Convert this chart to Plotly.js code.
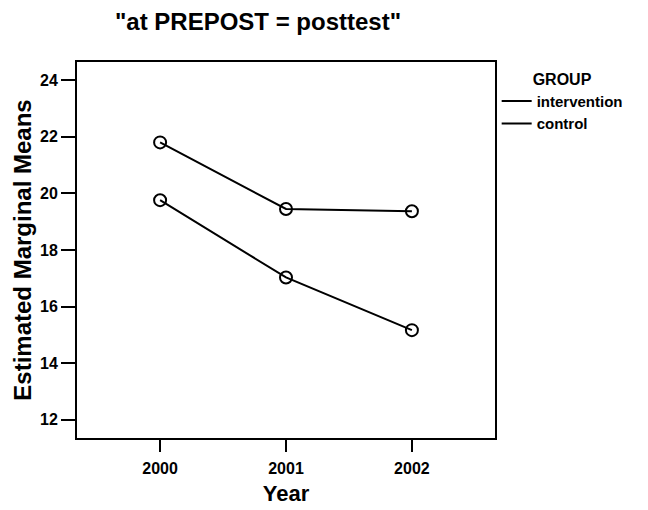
<!DOCTYPE html>
<html>
<head>
<meta charset="utf-8">
<script src="https://cdn.plot.ly/plotly-3.0.1.min.js"></script>
<style>html,body{margin:0;padding:0;background:#fff;}#chart{width:648px;height:510px;}</style>
</head>
<body>
<div id="chart"></div>
<script>
const years = [2000, 2001, 2002];
const intervention = [21.8, 19.45, 19.37];
const control = [19.76, 17.03, 15.17];
const yTicks = [12, 14, 16, 18, 20, 22, 24];
const seriesNames = ['intervention', 'control'];

const font = 'Liberation Sans, Arial, sans-serif';
const lineTrace = (y, name) => ({
  x: years, y: y, name: name, type: 'scatter', mode: 'lines',
  line: {color: '#000', width: 2}, showlegend: true
});
const markerTrace = (y, name) => ({
  x: years, y: y, name: name, type: 'scatter', mode: 'markers', showlegend: false,
  marker: {symbol: 'circle-open', size: 12, color: '#000', line: {color: '#000', width: 2}}
});

const data = [
  lineTrace(intervention, seriesNames[0]), lineTrace(control, seriesNames[1]),
  markerTrace(intervention, seriesNames[0]), markerTrace(control, seriesNames[1])
];

const layout = {
  width: 648, height: 510,
  margin: {l: 77, r: 153, t: 62, b: 72},
  paper_bgcolor: '#fff', plot_bgcolor: '#fff',
  font: {family: font, color: '#000', size: 16},
  title: {text: '<b>"at PREPOST = posttest"</b>', x: 258/648, xref: 'container', xanchor: 'center',
          y: 1 - 22/510, yref: 'container', yanchor: 'middle', font: {size: 24, family: font, color: '#000'}},
  xaxis: {
    range: [1999.34, 2002.66], tickvals: years, ticktext: years.map(v => '<b>' + v + '</b>'),
    showgrid: false, zeroline: false, showline: true, linecolor: '#000', linewidth: 2, mirror: true,
    ticks: 'outside', ticklen: 12, tickwidth: 2, tickcolor: '#000', ticklabelstandoff: 3,
    tickfont: {size: 16, family: font, color: '#000'},
    title: {text: '<b>Year</b>', font: {size: 22, family: font, color: '#000'}, standoff: 9}
  },
  yaxis: {
    range: [11.36, 24.64], tickvals: yTicks, ticktext: yTicks.map(v => '<b>' + v + '</b>'),
    showgrid: false, zeroline: false, showline: true, linecolor: '#000', linewidth: 2, mirror: true,
    ticks: 'outside', ticklen: 14, tickwidth: 2, tickcolor: '#000', ticklabelstandoff: 0,
    tickfont: {size: 16, family: font, color: '#000'},
    title: {text: '<b>Estimated Marginal Means</b>', font: {size: 24, family: font, color: '#000'}, standoff: 2}
  },
  showlegend: true,
  legend: {
    x: 1.004, xanchor: 'left', y: 0.995, yanchor: 'top',
    bgcolor: 'rgba(0,0,0,0)', borderwidth: 0,
    font: {size: 15, family: font, color: '#000', weight: 'bold'},
    title: {text: 'GROUP', side: 'top center', font: {size: 16, family: font, color: '#000', weight: 'bold'}},
    itemwidth: 30, tracegroupgap: 0
  }
};

Plotly.newPlot('chart', data, layout, {displayModeBar: false, staticPlot: true});
</script>
</body>
</html>
